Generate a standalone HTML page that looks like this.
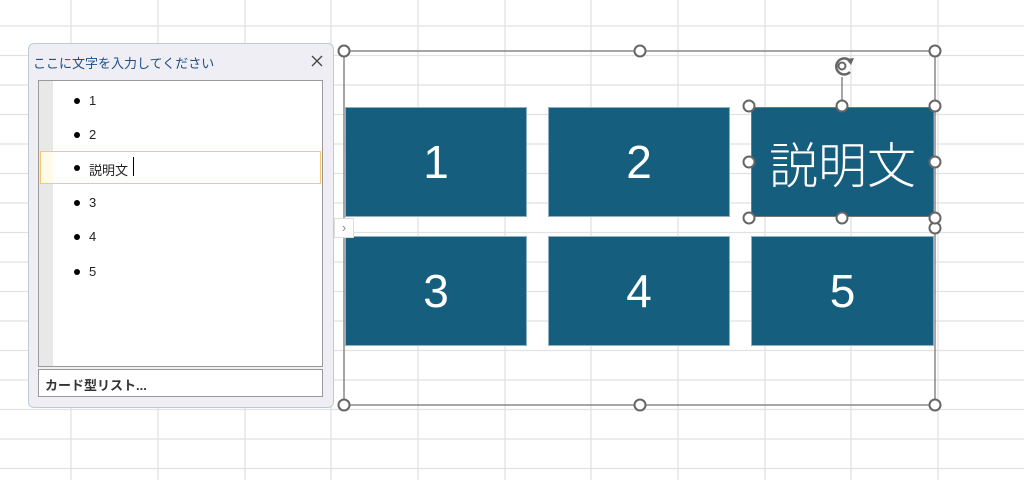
<!DOCTYPE html>
<html><head><meta charset="utf-8"><style>
*{margin:0;padding:0;box-sizing:border-box}
body{width:1024px;height:480px;overflow:hidden;background:#fff;position:relative;font-family:"Liberation Sans","Noto Sans CJK JP",sans-serif}
.a{position:absolute}
.box{position:absolute;background:#165e7e;border:1px solid #8fb0c0;color:#fff;font-size:46px;display:flex;align-items:center;justify-content:center}
.li{position:absolute;left:76px;font-size:13px;color:#222}
.li:before{content:"";position:absolute;left:-2px;top:5px;width:6px;height:6px;border-radius:50%;background:#000}
.li span{margin-left:13px}
</style></head><body>
<svg class="a" style="left:0;top:0" width="1024" height="480">
<g stroke="#e1e1e1" stroke-width="1.3">
<line x1="71" y1="0" x2="71" y2="480"/><line x1="158" y1="0" x2="158" y2="480"/><line x1="245" y1="0" x2="245" y2="480"/><line x1="331" y1="0" x2="331" y2="480"/><line x1="418" y1="0" x2="418" y2="480"/><line x1="505" y1="0" x2="505" y2="480"/><line x1="591" y1="0" x2="591" y2="480"/><line x1="678" y1="0" x2="678" y2="480"/><line x1="765" y1="0" x2="765" y2="480"/><line x1="851" y1="0" x2="851" y2="480"/><line x1="938" y1="0" x2="938" y2="480"/>
<line x1="0" y1="26" x2="1024" y2="26"/><line x1="0" y1="55.5" x2="1024" y2="55.5"/><line x1="0" y1="85" x2="1024" y2="85"/><line x1="0" y1="114.5" x2="1024" y2="114.5"/><line x1="0" y1="144" x2="1024" y2="144"/><line x1="0" y1="173.5" x2="1024" y2="173.5"/><line x1="0" y1="203" x2="1024" y2="203"/><line x1="0" y1="232.5" x2="1024" y2="232.5"/><line x1="0" y1="262" x2="1024" y2="262"/><line x1="0" y1="291.5" x2="1024" y2="291.5"/><line x1="0" y1="321" x2="1024" y2="321"/><line x1="0" y1="350.5" x2="1024" y2="350.5"/><line x1="0" y1="380" x2="1024" y2="380"/><line x1="0" y1="409.5" x2="1024" y2="409.5"/><line x1="0" y1="439" x2="1024" y2="439"/><line x1="0" y1="468.5" x2="1024" y2="468.5"/>
</g></svg>
<div class="box" style="left:345px;top:107px;width:182px;height:110px">1</div>
<div class="box" style="left:548px;top:107px;width:182px;height:110px">2</div>
<div class="box" style="left:751px;top:107px;width:183px;height:110px;font-size:49px;font-weight:300;border-color:#777">説明文</div>
<div class="box" style="left:345px;top:236px;width:182px;height:110px">3</div>
<div class="box" style="left:548px;top:236px;width:182px;height:110px">4</div>
<div class="box" style="left:751px;top:236px;width:183px;height:110px">5</div>
<svg class="a" style="left:0;top:0" width="1024" height="480">
<g fill="none" stroke="#777" stroke-width="1.3">
<rect x="344" y="51" width="591" height="354"/>
<line x1="842" y1="77" x2="842" y2="106"/>
</g>
<g fill="#fff" stroke="#666" stroke-width="2">
<circle cx="344" cy="51" r="5.5"/><circle cx="640" cy="51" r="5.5"/><circle cx="935" cy="51" r="5.5"/>
<circle cx="344" cy="405" r="5.5"/><circle cx="640" cy="405" r="5.5"/><circle cx="935" cy="405" r="5.5"/>
<circle cx="935" cy="228" r="5.5"/>
<circle cx="749" cy="106" r="5.5"/><circle cx="842" cy="106" r="5.5"/><circle cx="935" cy="106" r="5.5"/>
<circle cx="749" cy="162" r="5.5"/><circle cx="935" cy="162" r="5.5"/>
<circle cx="749" cy="218" r="5.5"/><circle cx="842" cy="218" r="5.5"/><circle cx="935" cy="218" r="5.5"/>
</g>
<g fill="none" stroke="#666" stroke-width="2.5">
<path d="M849 60 A8 8 0 1 0 850 72"/>
<circle cx="842" cy="66" r="3.5" stroke-width="2"/>
</g>
<path d="M846 59 L854 58 L851 65 Z" fill="#666"/>
</svg>
<div class="a" style="left:28px;top:43px;width:306px;height:365px;background:#eeeef4;border:1px solid #b9cdd2;border-radius:6px"></div>
<div class="a" style="left:33px;top:53px;font-size:13px;color:#1d4e89">ここに文字を入力してください</div>
<svg class="a" style="left:310px;top:54px" width="14" height="14"><path d="M2 2L12 12M12 2L2 12" stroke="#444" stroke-width="1.3"/></svg>
<div class="a" style="left:38px;top:80px;width:285px;height:287px;background:#fff;border:1px solid #999"></div>
<div class="a" style="left:39px;top:81px;width:14px;height:285px;background:#e8e8e8"></div>
<div class="a" style="left:40px;top:151px;width:281px;height:33px;background:#fff;border:1px solid #fbc76e"></div>
<div class="a" style="left:41px;top:152px;width:12px;height:31px;background:#fffbe8"></div>
<div class="li" style="top:93px"><span>1</span></div>
<div class="li" style="top:127px"><span>2</span></div>
<div class="li" style="top:160px"><span>説明文</span></div>
<div class="a" style="left:133px;top:157px;width:1px;height:19px;background:#000"></div>
<div class="li" style="top:195px"><span>3</span></div>
<div class="li" style="top:229px"><span>4</span></div>
<div class="li" style="top:264px"><span>5</span></div>
<div class="a" style="left:38px;top:369px;width:285px;height:28px;background:#fff;border:1px solid #999;font-size:13px;font-weight:bold;color:#333;padding:5px 0 0 6px">カード型リスト...</div>
<div class="a" style="left:334px;top:218px;width:20px;height:20px;background:#fff;border:1px solid #ddd;color:#888;font-size:13px;text-align:center;line-height:18px">›</div>
</body></html>
